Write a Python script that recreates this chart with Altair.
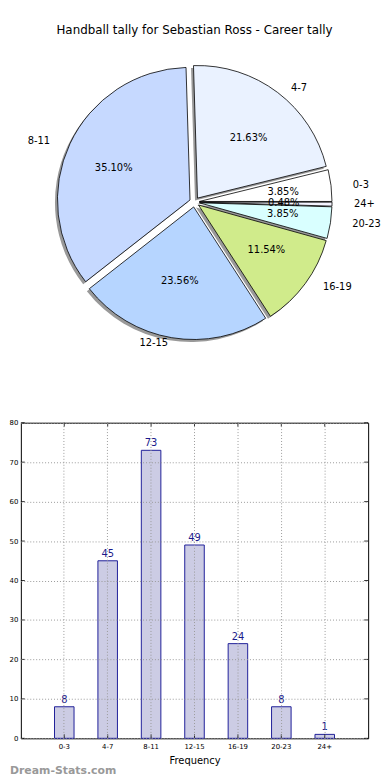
import math
import altair as alt
import numpy as np
import pandas as pd

# ---------------- data ----------------
categories = ["0-3", "4-7", "8-11", "12-15", "16-19", "20-23", "24+"]
counts = [8, 45, 73, 49, 24, 8, 1]
pie_colors = ["#ffffff", "#eaf2ff", "#c6d9ff", "#b6d5ff", "#d0eb8b", "#d9ffff", "#f4f4ff"]
y_ticks = [0, 10, 20, 30, 40, 50, 60, 70, 80]
title_text = "Handball tally for Sebastian Ross - Career tally"
watermark = ["Dream-Stats.com"]

# ---------------- layout constants ----------------
W = 351          # panel width (both panels)
H1 = 300         # pie panel height
H2 = 319         # bar panel height
CX = W / 2
CY = 150
R = 134
RX, RY = 142, 127
EXPL = 5
SHX, SHY = -2.5, 2.5

total = sum(counts)
cnt = np.array(counts, dtype=float)
end = np.cumsum(cnt)
start = end - cnt
mid = (start + end) / 2
ang = 2 * np.pi * mid / total
cosv, sinv = np.cos(ang), np.sin(ang)

pie_df = pd.DataFrame({
    "cat": categories,
    "count": counts,
    "start": start,
    "end": end,
})
pie_df["cx"] = CX + EXPL * cosv
pie_df["cy"] = CY - EXPL * sinv
pie_df["sx"] = pie_df["cx"] + SHX
pie_df["sy"] = pie_df["cy"] + SHY
pie_df["lx"] = pie_df["cx"] + 1.1 * RX * cosv
pie_df["ly"] = pie_df["cy"] - 1.1 * RY * sinv
pie_df["px"] = pie_df["cx"] + 0.6 * RX * cosv
pie_df["py"] = pie_df["cy"] - 0.6 * RY * sinv
pie_df["pct"] = [f"{c / total * 100:.2f}%" for c in counts]
pie_df["side"] = ["left" if c >= 0 else "right" for c in cosv]

theta_scale = alt.Scale(domain=[0, total], range=[2.5 * math.pi, 0.5 * math.pi])

base = alt.Chart(pie_df)
shadow = base.mark_arc(radius=R, fill="#777777", opacity=0.75).encode(
    theta=alt.Theta("start:Q", scale=theta_scale, stack=None),
    theta2="end:Q",
    x=alt.X("sx:Q", scale=None, axis=None),
    y=alt.Y("sy:Q", scale=None, axis=None),
)
slices = base.mark_arc(radius=R, stroke="black", strokeWidth=0.8).encode(
    theta=alt.Theta("start:Q", scale=theta_scale, stack=None),
    theta2="end:Q",
    x=alt.X("cx:Q", scale=None, axis=None),
    y=alt.Y("cy:Q", scale=None, axis=None),
    color=alt.Color("cat:N", scale=alt.Scale(domain=categories, range=pie_colors), legend=None),
)
lab_left = base.transform_filter(alt.datum.side == "left").mark_text(
    align="left", baseline="middle", fontSize=10, color="black"
).encode(x=alt.X("lx:Q", scale=None, axis=None), y=alt.Y("ly:Q", scale=None, axis=None), text="cat:N")
lab_right = base.transform_filter(alt.datum.side == "right").mark_text(
    align="right", baseline="middle", fontSize=10, color="black"
).encode(x=alt.X("lx:Q", scale=None, axis=None), y=alt.Y("ly:Q", scale=None, axis=None), text="cat:N")
pct = base.mark_text(align="center", baseline="middle", fontSize=10, color="black").encode(
    x=alt.X("px:Q", scale=None, axis=None), y=alt.Y("py:Q", scale=None, axis=None), text="pct:N"
)

pie = alt.layer(shadow, slices, lab_left, lab_right, pct).properties(
    width=W,
    height=H1,
    title=alt.TitleParams(title_text, fontSize=12, fontWeight="normal", color="black",
                          anchor="middle", offset=17),
    view=alt.ViewBackground(stroke="transparent"),
)

# ---------------- bar chart ----------------
bar_df = pd.DataFrame({"cat": categories, "count": counts})
tick_df = pd.DataFrame({"count": y_ticks})

xscale = alt.Scale(domain=categories, paddingInner=0.55, paddingOuter=0.775)
yscale = alt.Scale(domain=[0, 80], nice=False)

xaxis = alt.Axis(title="Frequency", titleFontSize=10, titleFontWeight="normal", titlePadding=6,
                 labelAngle=0, labelFontSize=7, labelPadding=4, ticks=False, domain=False,
                 grid=True, gridDash=[1, 2], gridColor="#9a9a9a", bandPosition=0.5, zindex=1)
yaxis = alt.Axis(title=None, values=y_ticks, labelFontSize=7, labelPadding=3, ticks=False,
                 labelOverlap=False, domain=False, grid=True, gridDash=[1, 2],
                 gridColor="#9a9a9a", zindex=1)

xenc = alt.X("cat:N", sort=categories, scale=xscale, axis=xaxis)
yenc = alt.Y("count:Q", scale=yscale, axis=yaxis)

bars = alt.Chart(bar_df).mark_bar(fill="#ccccE4", stroke="#1f1f99", strokeWidth=1).encode(x=xenc, y=yenc)
bar_text = alt.Chart(bar_df).mark_text(baseline="bottom", dy=-2, fontSize=10, color="#1a1a8c").encode(
    x=xenc, y=yenc, text="count:Q"
)
ytick_l = alt.Chart(tick_df).mark_rule(color="black", strokeWidth=0.8).encode(
    y=yenc, x=alt.value(0), x2=alt.value(4))
ytick_r = alt.Chart(tick_df).mark_rule(color="black", strokeWidth=0.8).encode(
    y=yenc, x=alt.value(W - 4), x2=alt.value(W))
xtick_b = alt.Chart(bar_df).mark_rule(color="black", strokeWidth=0.8).encode(
    x=xenc, y=alt.value(H2 - 4), y2=alt.value(H2))
xtick_t = alt.Chart(bar_df).mark_rule(color="black", strokeWidth=0.8).encode(
    x=xenc, y=alt.value(0), y2=alt.value(4))
wm = alt.Chart(pd.DataFrame({"t": watermark})).mark_text(
    align="left", baseline="middle", fontSize=11, fontWeight="bold", color="#999999"
).encode(text="t:N", x=alt.value(-11), y=alt.value(352))

bar = alt.layer(bars, bar_text, ytick_l, ytick_r, xtick_b, xtick_t, wm).properties(
    width=W, height=H2, view=alt.ViewBackground(stroke="black", strokeWidth=1)
)

chart = alt.vconcat(pie, bar, spacing=67).properties(
    padding={"left": 0, "top": 11, "right": 0, "bottom": 0}
).configure(font="DejaVu Sans").configure_axis(labelColor="black", titleColor="black")

chart.save("out.html", embed_options={"renderer": "svg", "actions": False})
